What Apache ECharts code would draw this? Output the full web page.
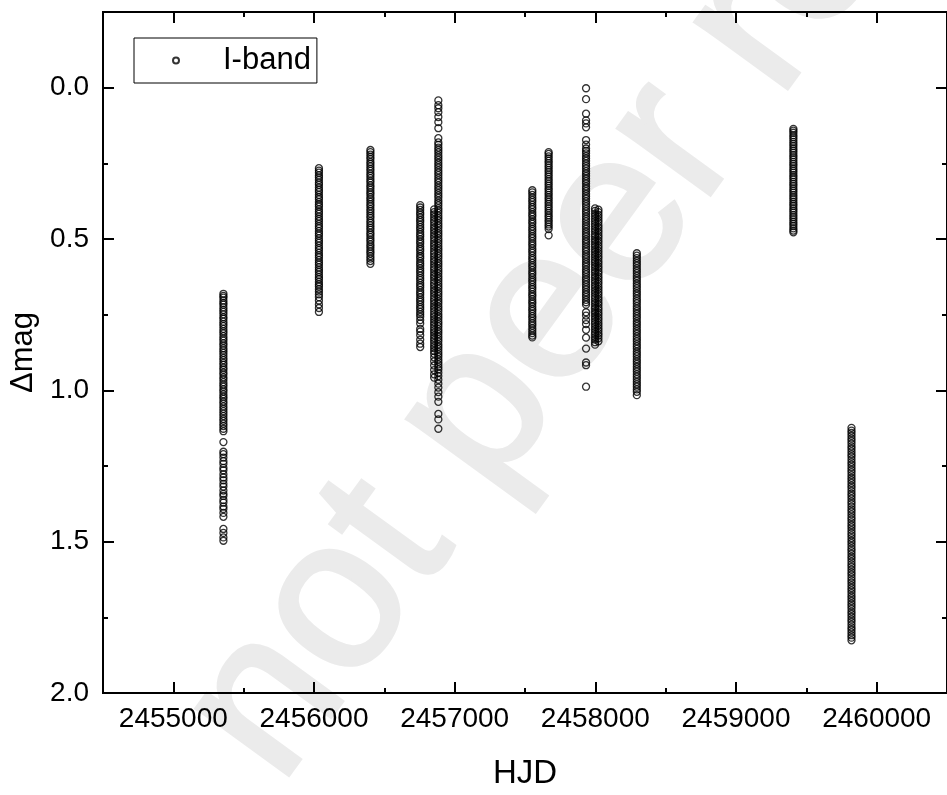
<!DOCTYPE html>
<html><head><meta charset="utf-8">
<script src="https://cdn.jsdelivr.net/npm/echarts@6/dist/echarts.min.js"></script>
<style>html,body{margin:0;padding:0;background:#fff}#c{width:947px;height:795px}</style>
</head><body><div id="c"></div>
<script>
const seriesName = 'I-band';
const xAxisName = 'HJD';
const yAxisName = 'Δmag';
const watermarkText = 'not peer reviewed';
const xTickValues = [2455000, 2456000, 2457000, 2458000, 2459000, 2460000];
const xMinorTickValues = [2455500, 2456500, 2457500, 2458500, 2459500];
const yTickValues = [0, 0.5, 1, 1.5, 2];
const yMinorTickValues = [0.25, 0.75, 1.25, 1.75];

// HJD of each observing season (one column of points each)
const seasonHJD = [2455356, 2456035, 2456401, 2456755, 2456854, 2456884, 2457552, 2457668, 2457934, 2457998, 2458022, 2458295, 2459408, 2459821];

const magS1 = [0.681,0.688,0.694,0.703,0.711,0.717,0.726,0.734,0.741,0.749,0.758,0.764,0.773,0.781,0.788,0.797,0.805,0.812,0.821,0.829,0.836,0.845,0.852,0.861,0.868,0.876,0.884,0.893,0.900,0.909,0.916,0.925,0.932,0.941,0.948,0.957,0.964,0.973,0.981,0.988,0.997,1.004,1.013,1.021,1.028,1.037,1.044,1.053,1.061,1.069,1.077,1.085,1.094,1.101,1.110,1.118,1.127,1.135,1.171,1.203,1.211,1.222,1.234,1.243,1.256,1.264,1.277,1.288,1.297,1.309,1.318,1.331,1.342,1.349,1.362,1.371,1.384,1.392,1.405,1.418,1.458,1.471,1.486,1.497];
const magS2 = [0.266,0.274,0.281,0.290,0.297,0.305,0.314,0.321,0.330,0.338,0.345,0.354,0.362,0.369,0.378,0.386,0.393,0.402,0.410,0.417,0.426,0.434,0.441,0.450,0.458,0.465,0.474,0.482,0.489,0.498,0.506,0.513,0.522,0.530,0.537,0.546,0.554,0.561,0.570,0.578,0.585,0.594,0.602,0.609,0.618,0.626,0.633,0.642,0.650,0.657,0.666,0.674,0.683,0.692,0.703,0.716,0.728,0.741];
const magS3 = [0.206,0.213,0.221,0.229,0.236,0.245,0.252,0.260,0.268,0.275,0.284,0.291,0.299,0.307,0.314,0.323,0.330,0.338,0.346,0.353,0.362,0.369,0.377,0.385,0.392,0.401,0.408,0.416,0.424,0.431,0.440,0.447,0.455,0.463,0.470,0.479,0.486,0.494,0.502,0.509,0.518,0.525,0.533,0.541,0.548,0.557,0.565,0.573,0.582];
const magS4 = [0.388,0.396,0.404,0.413,0.420,0.429,0.437,0.444,0.453,0.461,0.468,0.477,0.485,0.492,0.501,0.509,0.516,0.525,0.533,0.540,0.549,0.557,0.564,0.573,0.581,0.588,0.597,0.605,0.612,0.621,0.629,0.636,0.645,0.653,0.660,0.669,0.677,0.684,0.693,0.701,0.708,0.717,0.725,0.732,0.741,0.749,0.757,0.768,0.779,0.797,0.806,0.818,0.833,0.846,0.857];
const magS5a = [0.402,0.411,0.419,0.428,0.437,0.445,0.454,0.463,0.471,0.480,0.489,0.497,0.506,0.515,0.523,0.532,0.541,0.549,0.558,0.567,0.575,0.584,0.593,0.601,0.610,0.619,0.627,0.636,0.645,0.653,0.662,0.671,0.679,0.688,0.697,0.705,0.714,0.723,0.731,0.740,0.749,0.757,0.766,0.775,0.783,0.792,0.801,0.809,0.818,0.827,0.835,0.844,0.853,0.861,0.870,0.879,0.891,0.904,0.918,0.933,0.947,0.958];
const magS5b = [0.042,0.058,0.068,0.081,0.097,0.114,0.134,0.167,0.181,0.189,0.198,0.206,0.214,0.223,0.231,0.239,0.248,0.256,0.264,0.273,0.281,0.289,0.298,0.306,0.314,0.323,0.331,0.339,0.348,0.356,0.364,0.373,0.381,0.389,0.398,0.406,0.414,0.423,0.431,0.439,0.448,0.456,0.464,0.473,0.481,0.489,0.498,0.506,0.514,0.523,0.531,0.539,0.548,0.556,0.564,0.573,0.581,0.589,0.598,0.606,0.614,0.623,0.631,0.639,0.648,0.656,0.664,0.673,0.681,0.689,0.698,0.706,0.714,0.723,0.731,0.739,0.748,0.756,0.764,0.773,0.781,0.789,0.798,0.806,0.814,0.823,0.831,0.839,0.848,0.856,0.864,0.873,0.881,0.889,0.898,0.906,0.914,0.923,0.931,0.942,0.953,0.965,0.978,0.991,1.006,1.021,1.038,1.078,1.096,1.127];
const magS6 = [0.339,0.346,0.354,0.363,0.371,0.378,0.387,0.395,0.402,0.411,0.419,0.426,0.435,0.443,0.450,0.459,0.467,0.474,0.483,0.491,0.498,0.507,0.515,0.522,0.531,0.539,0.546,0.555,0.563,0.570,0.579,0.587,0.594,0.603,0.611,0.618,0.627,0.635,0.642,0.651,0.659,0.666,0.675,0.683,0.690,0.699,0.707,0.714,0.723,0.731,0.738,0.747,0.755,0.762,0.771,0.779,0.786,0.795,0.803,0.811,0.819,0.825];
const magS7 = [0.213,0.219,0.227,0.234,0.242,0.249,0.257,0.264,0.272,0.279,0.287,0.294,0.302,0.309,0.317,0.324,0.332,0.339,0.347,0.354,0.362,0.369,0.377,0.384,0.392,0.399,0.407,0.414,0.422,0.429,0.437,0.444,0.452,0.459,0.467,0.488];
const magS8 = [0.002,0.038,0.086,0.108,0.118,0.131,0.173,0.188,0.201,0.209,0.217,0.226,0.234,0.242,0.251,0.259,0.267,0.276,0.284,0.292,0.301,0.309,0.317,0.326,0.334,0.342,0.351,0.359,0.367,0.376,0.384,0.392,0.401,0.409,0.417,0.426,0.434,0.442,0.451,0.459,0.467,0.476,0.484,0.492,0.501,0.509,0.517,0.526,0.534,0.542,0.551,0.559,0.567,0.576,0.584,0.592,0.601,0.609,0.617,0.626,0.634,0.642,0.651,0.659,0.667,0.676,0.684,0.692,0.701,0.709,0.717,0.742,0.753,0.768,0.781,0.800,0.826,0.862,0.908,0.917,0.988];
const magS9a = [0.399,0.407,0.416,0.424,0.433,0.441,0.450,0.458,0.467,0.475,0.484,0.492,0.501,0.509,0.518,0.526,0.535,0.543,0.552,0.560,0.569,0.577,0.586,0.594,0.603,0.611,0.620,0.628,0.637,0.645,0.654,0.662,0.671,0.679,0.688,0.696,0.705,0.713,0.722,0.730,0.739,0.747,0.756,0.764,0.773,0.781,0.790,0.798,0.807,0.815,0.824,0.832,0.841,0.849];
const magS9b = [0.403,0.411,0.420,0.428,0.437,0.445,0.454,0.462,0.471,0.479,0.488,0.496,0.505,0.513,0.522,0.530,0.539,0.547,0.556,0.564,0.573,0.581,0.590,0.598,0.607,0.615,0.624,0.632,0.641,0.649,0.658,0.666,0.675,0.683,0.692,0.700,0.709,0.717,0.726,0.734,0.743,0.751,0.760,0.768,0.777,0.785,0.794,0.802,0.811,0.819,0.828,0.838];
const magS10 = [0.547,0.555,0.563,0.572,0.580,0.588,0.597,0.605,0.613,0.622,0.630,0.638,0.647,0.655,0.663,0.672,0.680,0.688,0.697,0.705,0.713,0.722,0.730,0.738,0.747,0.755,0.763,0.772,0.780,0.788,0.797,0.805,0.813,0.822,0.830,0.838,0.847,0.855,0.863,0.872,0.880,0.888,0.897,0.905,0.913,0.922,0.930,0.938,0.947,0.955,0.963,0.972,0.980,0.988,0.997,1.005,1.016];
const magS11 = [0.136,0.142,0.149,0.157,0.164,0.171,0.179,0.186,0.193,0.201,0.208,0.215,0.223,0.230,0.237,0.245,0.252,0.259,0.267,0.274,0.281,0.289,0.296,0.303,0.311,0.318,0.325,0.333,0.340,0.347,0.355,0.362,0.369,0.377,0.384,0.391,0.399,0.406,0.413,0.421,0.428,0.435,0.443,0.450,0.457,0.465,0.472,0.478];
const magS12 = [1.124,1.133,1.141,1.150,1.159,1.167,1.176,1.185,1.193,1.202,1.211,1.219,1.228,1.237,1.245,1.254,1.263,1.271,1.280,1.289,1.297,1.306,1.315,1.323,1.332,1.341,1.349,1.358,1.367,1.375,1.384,1.393,1.401,1.410,1.419,1.427,1.436,1.445,1.453,1.462,1.471,1.479,1.488,1.497,1.505,1.514,1.523,1.531,1.540,1.549,1.557,1.566,1.575,1.583,1.592,1.601,1.609,1.618,1.627,1.635,1.644,1.653,1.661,1.670,1.679,1.687,1.696,1.705,1.713,1.722,1.731,1.739,1.748,1.757,1.765,1.774,1.783,1.791,1.800,1.809,1.817,1.826];

const seasonMags = [magS1, magS2, magS3, magS4, magS5a, magS5b, magS6, magS7, magS8, magS9a, magS9b, magS10, magS11, magS12];

const points = [];
seasonMags.forEach((mags, i) => mags.forEach(m => points.push([seasonHJD[i], m])));

const FONT = 'Liberation Sans, Arial, sans-serif';
const axisLineStyle = { color: '#000', width: 2 };

function xAx(position, major, showLabel) {
  return {
    type: 'value', position: position, min: 2454500, max: 2460500,
    axisLine: { show: true, onZero: false, lineStyle: axisLineStyle },
    axisTick: { show: true, inside: true, length: major ? 11 : 5, customValues: major ? xTickValues : xMinorTickValues, lineStyle: { color: '#000', width: 2 } },
    axisLabel: showLabel ? { show: true, customValues: xTickValues, fontSize: 28, fontFamily: FONT, color: '#000', margin: 12, formatter: v => String(v) } : { show: false },
    splitLine: { show: false }, minorTick: { show: false },
    name: showLabel ? xAxisName : '', nameLocation: 'middle', nameGap: 64,
    nameTextStyle: { fontSize: 33, fontFamily: FONT, color: '#000' }
  };
}
function yAx(position, major, showLabel) {
  return {
    type: 'value', position: position, min: -0.25, max: 2.0, inverse: true,
    axisLine: { show: true, onZero: false, lineStyle: axisLineStyle },
    axisTick: { show: true, inside: true, length: major ? 11 : 5, customValues: major ? yTickValues : yMinorTickValues, lineStyle: { color: '#000', width: 2 } },
    axisLabel: showLabel ? { show: true, customValues: yTickValues, fontSize: 28, fontFamily: FONT, color: '#000', margin: 14, formatter: v => Number(v).toFixed(1) } : { show: false },
    splitLine: { show: false }, minorTick: { show: false },
    name: showLabel ? yAxisName : '', nameLocation: 'middle', nameGap: 62,
    nameTextStyle: { fontSize: 31, fontFamily: FONT, color: '#000' }
  };
}

const chart = echarts.init(document.getElementById('c'), null, { renderer: 'canvas' });
chart.setOption({
  animation: false,
  backgroundColor: '#fff',
  grid: { left: 103, top: 12, width: 848, height: 683 },
  xAxis: [xAx('bottom', true, true), xAx('bottom', false, false), xAx('top', true, false), xAx('top', false, false)],
  yAxis: [yAx('left', true, true), yAx('left', false, false), yAx('right', true, false), yAx('right', false, false)],
  legend: {
    left: 134, top: 38, orient: 'horizontal',
    padding: [5, 6, 5, 38],
    borderColor: '#000', borderWidth: 1, borderRadius: 0,
    itemWidth: 6, itemHeight: 6, icon: 'circle',
    formatter: '{g|}{t|{name}}',
    textStyle: { fontSize: 31, fontFamily: FONT, color: '#000', lineHeight: 35,
      rich: { g: { width: 39, fontSize: 31, lineHeight: 35 }, t: { fontSize: 31, fontFamily: FONT, color: '#000', lineHeight: 35 } } },
    data: [seriesName]
  },
  series: [{
    name: seriesName, type: 'scatter', xAxisIndex: 0, yAxisIndex: 0,
    symbol: 'circle', symbolSize: 7,
    itemStyle: { color: 'rgba(0,0,0,0)', borderColor: '#000', borderWidth: 1.3 },
    data: points, z: 5
  }],
  graphic: [{
    type: 'text', x: 232, y: 752, rotation: 54 * Math.PI / 180, z: -10, silent: true,
    style: { text: watermarkText, fontSize: 215, fontWeight: 'normal', fontFamily: FONT, fill: '#ebebeb', stroke: '#ebebeb', lineWidth: 4, textAlign: 'left', textVerticalAlign: 'middle' }
  }]
});
</script></body></html>
